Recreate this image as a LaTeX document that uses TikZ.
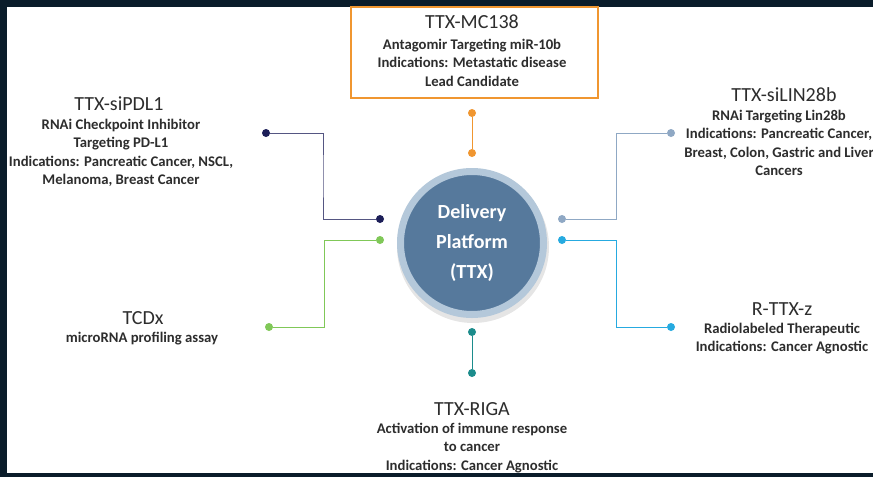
\documentclass[tikz,border=0pt]{standalone}
\usepackage{fontspec}
\setmainfont{Carlito}
\usetikzlibrary{calc,positioning}
\definecolor{bgdark}{RGB}{10,28,42}
\definecolor{boxorange}{RGB}{240,150,48}
\definecolor{txtgray}{RGB}{45,45,45}
\definecolor{hubfill}{RGB}{86,121,156}
\definecolor{hubring}{RGB}{180,200,218}
\definecolor{cnavy}{RGB}{28,30,88}
\definecolor{cgreen}{RGB}{128,200,88}
\definecolor{cgrey}{RGB}{143,168,196}
\definecolor{ccyan}{RGB}{38,170,224}
\definecolor{cteal}{RGB}{28,140,140}

\begin{document}
\begin{tikzpicture}[x=1pt,y=-1pt,
  dot/.style={circle,fill,inner sep=0pt,minimum size=8pt},
  link/.style={line width=1pt},
  ttl/.style={text=txtgray,font=\fontsize{20}{24}\selectfont,inner sep=0pt},
  info/.style={text=txtgray,font=\bfseries\fontsize{14.7}{18.4}\selectfont,align=center,inner sep=0pt,anchor=north},
  hub/.style={circle,fill=hubfill,draw=hubring,line width=7pt,minimum size=143pt,inner sep=0pt,text=white,align=center,font=\bfseries\fontsize{20}{30}\selectfont}]
  \def\hx{472}
  \def\hy{243}
  \useasboundingbox (0,0) rectangle (873,477);
  % background frame
  \fill[bgdark] (0,0) rectangle (873,477);
  \fill[white] (7,7) rectangle (873,473);
  % hub
  \fill[black,opacity=0.1] (\hx+1,\hy+4) circle (76);
  \node[hub] (ttx) at (\hx,\hy) {Delivery\\Platform\\(TTX)};
  % connectors
  \node[dot,boxorange] (mcTop) at (472,113) {};
  \node[dot,boxorange] (mcBot) at (472,153) {};
  \draw[link,boxorange] (mcTop) -- (mcBot);
  \node[dot,cteal] (rigTop) at (472,332) {};
  \node[dot,cteal] (rigBot) at (472,373) {};
  \draw[link,cteal] (rigTop) -- (rigBot);
  \node[dot,cnavy] (pdlOut) at (266,133) {};
  \node[dot,cnavy] (pdlIn) at (380,219) {};
  \draw[link,cnavy!75] (pdlOut) -| ($(pdlOut)!.5!(pdlIn)$) |- (pdlIn);
  \node[dot,cgreen] (tcdOut) at (269,327) {};
  \node[dot,cgreen] (tcdIn) at (380,240) {};
  \draw[link,cgreen] (tcdOut) -| ($(tcdOut)!.5!(tcdIn)$) |- (tcdIn);
  \node[dot,cgrey] (linOut) at (671,133) {};
  \node[dot,cgrey] (linIn) at (562,219) {};
  \draw[link,cgrey] (linOut) -| ($(linOut)!.5!(linIn)$) |- (linIn);
  \node[dot,ccyan] (rzOut) at (671,327) {};
  \node[dot,ccyan] (rzIn) at (562,240) {};
  \draw[link,ccyan] (rzOut) -| ($(rzOut)!.5!(rzIn)$) |- (rzIn);
  % lead candidate box
  \node[draw=boxorange,line width=2pt,minimum width=247pt,minimum height=91pt,inner sep=0pt] (mcBox) at (474.5,52.5) {};
  \node[ttl] (mcTitle) at (472,22) {TTX-MC138};
  \node[info] (mcText) at (472,39) {Antagomir Targeting miR-10b\\Indications: Metastatic disease\\Lead Candidate};
  % pipeline texts
  \node[ttl] (pdlTitle) at (119,104) {TTX-siPDL1};
  \node[info] (pdlText) at (121,119) {RNAi Checkpoint Inhibitor\\Targeting PD-L1\\Indications: Pancreatic Cancer, NSCL,\\Melanoma, Breast Cancer};
  \node[ttl] (linTitle) at (784,95) {TTX-siLIN28b};
  \node[info] (linText) at (779,110) {RNAi Targeting Lin28b\\Indications: Pancreatic Cancer,\\Breast, Colon, Gastric and Liver\\Cancers};
  \node[ttl] (tcdTitle) at (143,318) {TCDx};
  \node[info] (tcdText) at (142,332) {microRNA profiling assay};
  \node[ttl] (rzTitle) at (782,309) {R-TTX-z};
  \node[info] (rzText) at (782,323) {Radiolabeled Therapeutic\\Indications: Cancer Agnostic};
  \node[ttl] (rigTitle) at (472,409) {TTX-RIGA};
  \node[info] (rigText) at (472,423) {Activation of immune response\\to cancer\\Indications: Cancer Agnostic};
\end{tikzpicture}
\end{document}
